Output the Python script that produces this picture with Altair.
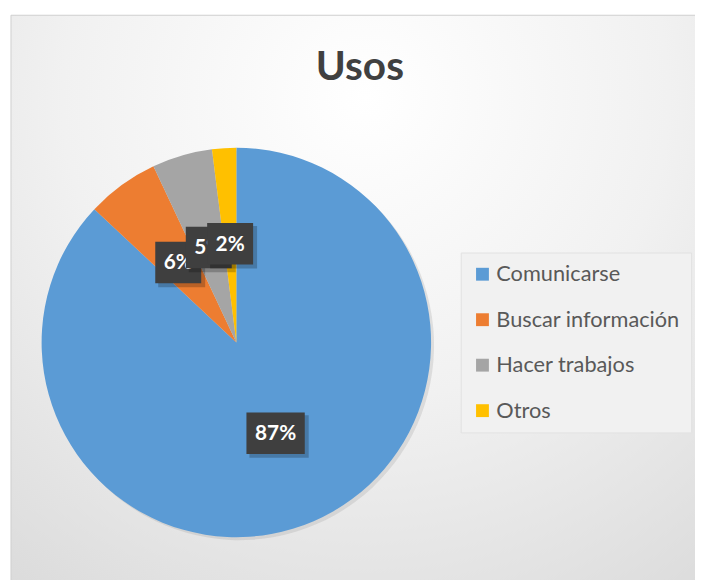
import altair as alt
import pandas as pd

categories = ["Comunicarse", "Buscar información", "Hacer trabajos", "Otros"]
values = [87, 6, 5, 2]
labels = ["87%", "6%", "5%", "2%"]
colors = ["#5b9bd5", "#ed7d31", "#a5a5a5", "#ffc000"]
title_text = "Usos"

df = pd.DataFrame({
    "categoria": categories,
    "value": values,
    "label": labels,
    "order": list(range(len(categories))),
})
one = pd.DataFrame({"t": [title_text]})

CX, CY, R, LR = 231, 335, 197, 100

bg = alt.Chart(one).mark_rect(
    color=alt.Gradient(
        gradient="radial",
        stops=[alt.GradientStop(color="#ffffff", offset=0),
               alt.GradientStop(color="#f1f1f1", offset=0.45),
               alt.GradientStop(color="#d6d6d6", offset=1)],
        x1=0.5, y1=0.2, x2=0.5, y2=0.2, r1=0, r2=0.95),
    stroke="#cfcfcf", strokeWidth=1,
).encode(x=alt.value(3), x2=alt.value(720), y=alt.value(4), y2=alt.value(600))

title = alt.Chart(one).mark_text(
    font="Lato", fontSize=41, fontWeight="bold", color="#404040",
    baseline="alphabetic", align="center",
).encode(text="t:N", x=alt.value(356), y=alt.value(70))

pie_shadow = alt.Chart(df).mark_arc(radius=R, color="#9a9a9a", opacity=0.25).encode(
    theta=alt.Theta("value:Q", stack=True),
    order=alt.Order("order:Q"),
    x=alt.value(CX + 3), y=alt.value(CY + 3),
)

pie = alt.Chart(df).mark_arc(radius=R).encode(
    theta=alt.Theta("value:Q", stack=True),
    color=alt.Color("categoria:N", sort=categories,
                    scale=alt.Scale(domain=categories, range=colors),
                    legend=alt.Legend(
                        title=None, orient="none", legendX=458, legendY=244,
                        direction="vertical",
                        symbolType="square", symbolSize=169, symbolStrokeWidth=0,
                        labelFont="Lato", labelFontSize=22, labelColor="#595959",
                        labelLimit=400,
                        labelOffset=3, rowPadding=24, padding=11,
                        fillColor="#f1f1f1", strokeColor="#e2e2e2")),
    order=alt.Order("order:Q"),
    x=alt.value(CX), y=alt.value(CY),
)

base = alt.Chart(df).transform_window(
    cum="sum(value)", sort=[alt.SortField("order", order="ascending")], frame=[None, 0]
).transform_joinaggregate(total="sum(value)").transform_calculate(
    mid="(datum.cum - datum.value/2) / datum.total * 2 * PI",
).transform_calculate(
    lx=f"{CX} + {LR} * sin(datum.mid)",
    ly=f"{CY} - {LR} * cos(datum.mid)",
    bw="(length(datum.label) - 1) * 12.5 + 34",
).transform_calculate(
    x1="datum.lx - datum.bw/2", x2="datum.lx + datum.bw/2",
    y1="datum.ly - 21", y2="datum.ly + 21",
    sx1="datum.lx - datum.bw/2 + 3", sx2="datum.lx + datum.bw/2 + 4",
    sy1="datum.ly - 18", sy2="datum.ly + 25",
)

shadows = base.mark_rect(color="#000000", opacity=0.22).encode(
    x=alt.X("sx1:Q", scale=None), x2="sx2:Q",
    y=alt.Y("sy1:Q", scale=None), y2="sy2:Q",
)
boxes = base.mark_rect(color="#3f3f3f").encode(
    x=alt.X("x1:Q", scale=None), x2="x2:Q",
    y=alt.Y("y1:Q", scale=None), y2="y2:Q",
)
texts = base.mark_text(
    font="Lato", fontSize=21, fontWeight="bold", color="#ffffff",
    align="center", baseline="middle", dy=1,
).encode(
    x=alt.X("lx:Q", scale=None), y=alt.Y("ly:Q", scale=None),
    text="label:N",
)

# draw each label box + text in order so later labels overlap earlier ones
label_layers = []
for i in range(len(categories)):
    f = alt.datum.order == i
    label_layers += [shadows.transform_filter(f), boxes.transform_filter(f), texts.transform_filter(f)]

chart = alt.layer(bg, title, pie_shadow, pie, *label_layers).properties(
    width=695, height=572,
    autosize=alt.AutoSizeParams(type="none"),
    padding=0,
    background="#ffffff",
).configure_view(stroke=None)

chart.save("out.html", embed_options={"renderer": "svg", "actions": False})
